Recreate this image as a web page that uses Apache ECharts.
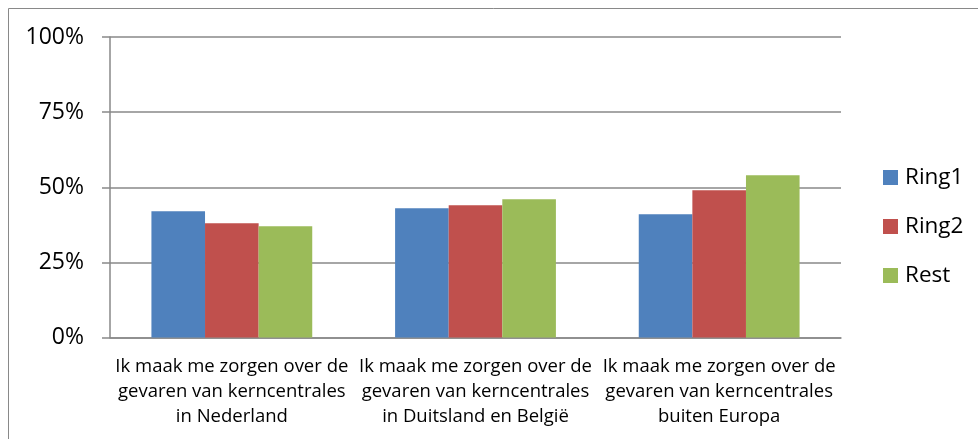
<!DOCTYPE html>
<html>
<head>
<meta charset="utf-8">
<script src="https://cdn.jsdelivr.net/npm/echarts@6/dist/echarts.min.js"></script>
<style>
  html, body { margin: 0; padding: 0; background: #fff; }
  #chart { width: 978px; height: 439px; }
</style>
</head>
<body>
<div id="chart"></div>
<script>
// categories and values (percent)
const categories = [
  'Ik maak me zorgen over de\ngevaren van kerncentrales\nin Nederland',
  'Ik maak me zorgen over de\ngevaren van kerncentrales\nin Duitsland en België',
  'Ik maak me zorgen over de\ngevaren van kerncentrales\nbuiten Europa',
]
const seriesNames = ['Ring1', 'Ring2', 'Rest']
const ring1 = [42, 43, 41]
const ring2 = [38, 44, 49]
const rest = [37, 46, 54]
const colors = ['#4F81BD', '#C0504D', '#9BBB59']

const font = 'Open Sans'
const gridColor = '#898989'

const chart = echarts.init(document.getElementById('chart'))
chart.setOption({
  animation: false,
  textStyle: { fontFamily: font },
  graphic: [{
    type: 'rect',
    shape: { x: 8.5, y: 8.5, width: 990, height: 450 },
    style: { fill: 'none', stroke: gridColor, lineWidth: 1 },
  }],
  grid: { left: 110, right: 137, top: 37, bottom: 101.5 },
  legend: {
    orient: 'vertical',
    left: 883,
    top: 165,
    padding: 0,
    itemWidth: 15,
    itemHeight: 15,
    itemGap: 24,
    icon: 'rect',
    data: seriesNames,
    textStyle: { fontFamily: font, fontSize: 22.5, lineHeight: 25, color: '#000', padding: [0, 0, 0, 2] },
  },
  xAxis: {
    type: 'category',
    data: categories,
    axisLine: { lineStyle: { color: gridColor, width: 1.5 } },
    axisTick: { length: 6, lineStyle: { color: gridColor, width: 1.5 } },
    axisLabel: {
      interval: 0,
      margin: 17,
      fontFamily: font,
      fontSize: 18.5,
      lineHeight: 25,
      color: '#000',
      align: 'center',
    },
  },
  yAxis: {
    type: 'value',
    min: 0,
    max: 100,
    interval: 25,
    axisLine: { show: true, lineStyle: { color: gridColor, width: 1.5 } },
    axisTick: { show: true, length: 8, lineStyle: { color: gridColor, width: 1.5 } },
    splitLine: { lineStyle: { color: gridColor, width: 1.5 } },
    axisLabel: {
      margin: 26,
      fontFamily: font,
      fontSize: 23,
      color: '#000',
      formatter: '{value}%',
    },
  },
  series: [
    { name: seriesNames[0], type: 'bar', data: ring1, itemStyle: { color: colors[0] }, barGap: '0%', barCategoryGap: '34%' },
    { name: seriesNames[1], type: 'bar', data: ring2, itemStyle: { color: colors[1] }, barGap: '0%', barCategoryGap: '34%' },
    { name: seriesNames[2], type: 'bar', data: rest, itemStyle: { color: colors[2] }, barGap: '0%', barCategoryGap: '34%' },
  ],
})
</script>
</body>
</html>
